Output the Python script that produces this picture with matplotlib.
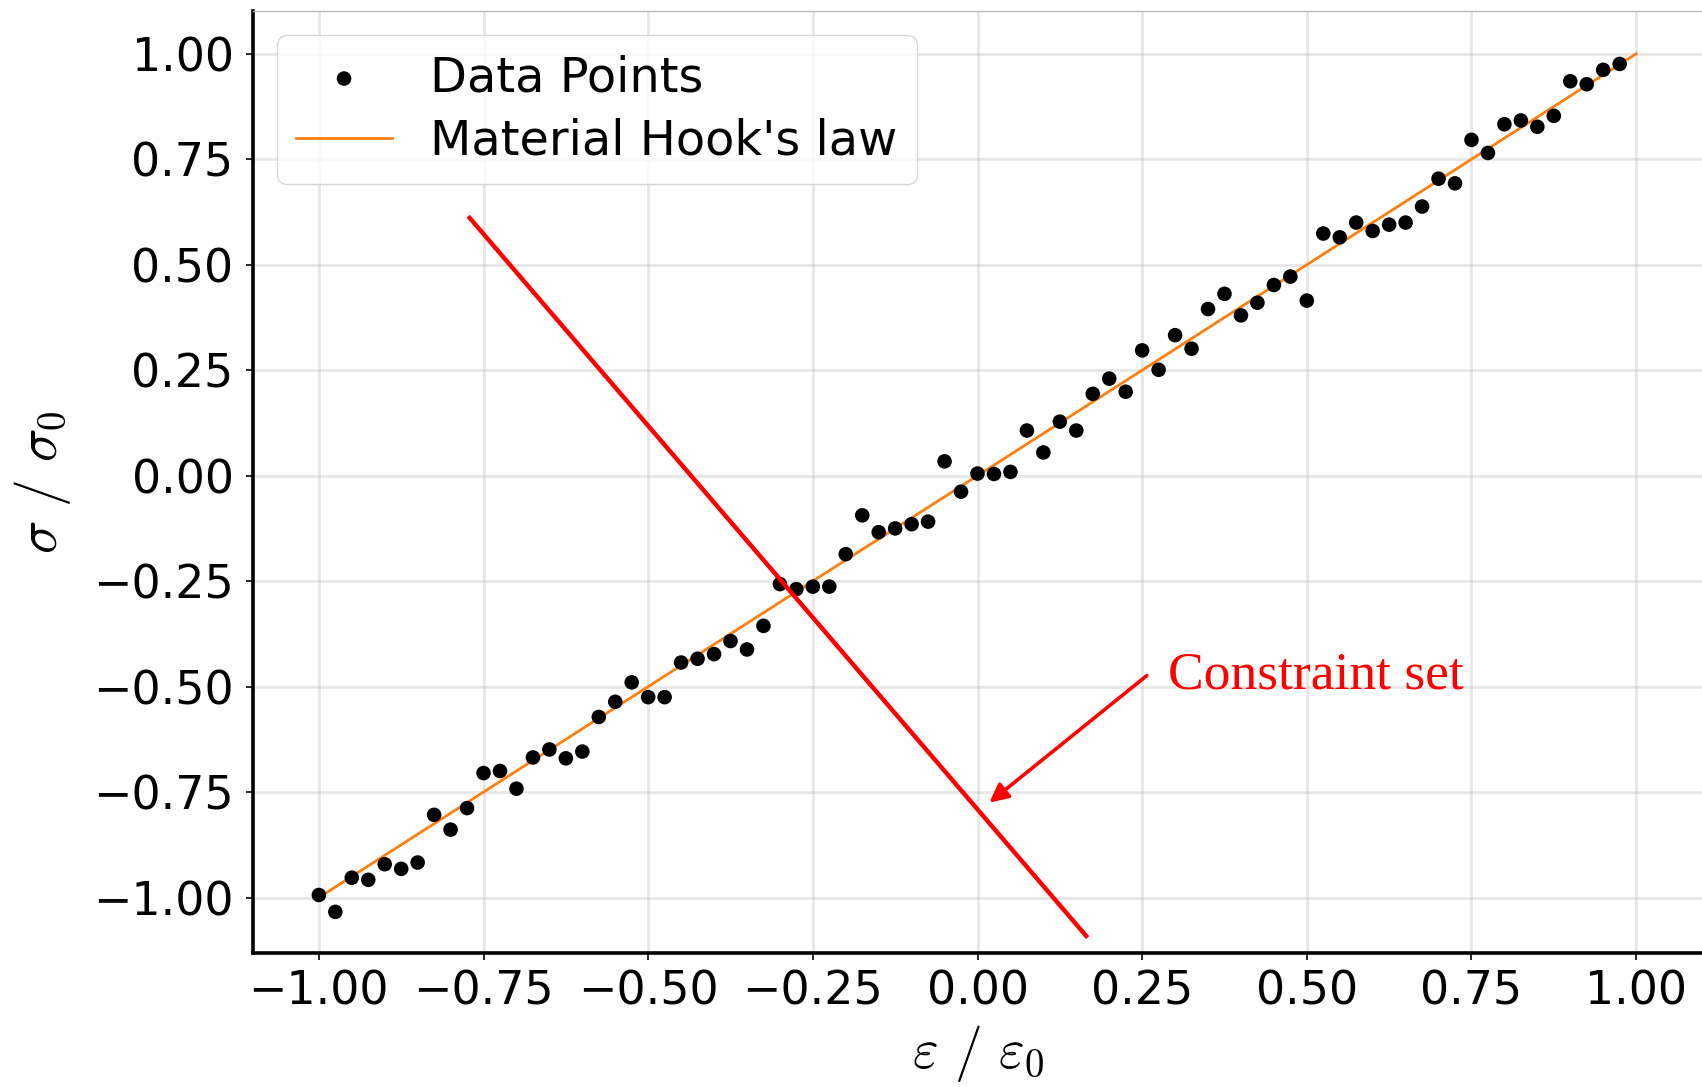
import matplotlib
matplotlib.use("Agg")
from matplotlib import pyplot as plt

# normalised strain / stress samples
strain = [-1.000, -0.975, -0.950, -0.925, -0.900, -0.875, -0.850, -0.825, -0.800, -0.775,
          -0.750, -0.725, -0.700, -0.675, -0.650, -0.625, -0.600, -0.575, -0.550, -0.525,
          -0.500, -0.475, -0.450, -0.425, -0.400, -0.375, -0.350, -0.325, -0.300, -0.275,
          -0.250, -0.225, -0.200, -0.175, -0.150, -0.125, -0.100, -0.075, -0.050, -0.025,
          0.000, 0.025, 0.050, 0.075, 0.100, 0.125, 0.150, 0.175, 0.200, 0.225,
          0.250, 0.275, 0.300, 0.325, 0.350, 0.375, 0.400, 0.425, 0.450, 0.475,
          0.500, 0.525, 0.550, 0.575, 0.600, 0.625, 0.650, 0.675, 0.700, 0.725,
          0.750, 0.775, 0.800, 0.825, 0.850, 0.875, 0.900, 0.925, 0.950, 0.975]
stress = [-0.994, -1.034, -0.953, -0.958, -0.921, -0.932, -0.917, -0.804, -0.839, -0.788,
          -0.705, -0.700, -0.742, -0.668, -0.649, -0.670, -0.654, -0.572, -0.536, -0.490,
          -0.525, -0.525, -0.443, -0.434, -0.423, -0.392, -0.412, -0.356, -0.257, -0.269,
          -0.263, -0.263, -0.186, -0.094, -0.134, -0.125, -0.115, -0.109, 0.034, -0.038,
          0.005, 0.004, 0.009, 0.107, 0.055, 0.128, 0.107, 0.194, 0.230, 0.199,
          0.297, 0.251, 0.333, 0.301, 0.395, 0.431, 0.380, 0.410, 0.452, 0.472,
          0.415, 0.574, 0.565, 0.600, 0.580, 0.595, 0.600, 0.638, 0.704, 0.693,
          0.796, 0.765, 0.833, 0.842, 0.827, 0.853, 0.935, 0.928, 0.962, 0.976]

# linear material law
hooke_x = [-1.0, 1.0]
hooke_y = [-1.0, 1.0]

# constraint set line and arrow
constraint_x = [-0.771, 0.165]
constraint_y = [0.611, -1.091]
arrow_tail = (0.257, -0.474)
arrow_head = (0.018, -0.775)
label_pos = (0.289, -0.474)

plt.rcParams['mathtext.fontset'] = 'cm'

fig = plt.figure(figsize=(17.02, 10.87), dpi=100)
ax = fig.add_axes([253 / 1702, 1 - 953 / 1087, 1 - 253 / 1702, (953 - 11) / 1087])

ax.scatter(strain, stress, s=110, color="black", edgecolors="none", label="Data Points", zorder=3)
ax.plot(hooke_x, hooke_y, color="#ff7f0e", lw=2.0, label="Material Hook's law", zorder=2)

ax.plot(constraint_x, constraint_y, color="#ff0000", lw=3.2, zorder=4, scalex=False, scaley=False)
ax.annotate("", xy=arrow_head, xytext=arrow_tail,
            arrowprops=dict(arrowstyle="-|>", color="#ff0000", lw=2.6, mutation_scale=28,
                            shrinkA=0, shrinkB=0), zorder=4)
ax.text(label_pos[0], label_pos[1], "Constraint set", color="#ff0000",
        fontsize=38.5, family="Liberation Serif", ha="left", va="center")

ax.set_xlim(-1.1, 1.1)
ax.set_ylim(-1.1315, 1.1015)
ax.set_xticks([-1.0, -0.75, -0.5, -0.25, 0.0, 0.25, 0.5, 0.75, 1.0])
ax.set_yticks([-1.0, -0.75, -0.5, -0.25, 0.0, 0.25, 0.5, 0.75, 1.0])
ax.tick_params(axis="both", labelsize=33, length=5, width=1.2)
ax.tick_params(axis="x", pad=7)
ax.tick_params(axis="y", pad=9)

ax.grid(True, color="#b0b0b0", alpha=0.3, lw=2)
ax.set_axisbelow(True)

ax.spines["left"].set_linewidth(2.6)
ax.spines["bottom"].set_linewidth(2.6)
ax.spines["top"].set_color("#bbbbbb")
ax.spines["top"].set_linewidth(1)
ax.spines["right"].set_visible(False)

ax.set_xlabel(r"$\varepsilon\ /\ \varepsilon_0$", fontsize=40, labelpad=6)
ax.set_ylabel(r"$\sigma\ /\ \sigma_0$", fontsize=40, labelpad=14)

ax.legend(loc="upper left", fontsize=34.5, labelspacing=0.35)

fig.savefig("out.png", dpi=100)
